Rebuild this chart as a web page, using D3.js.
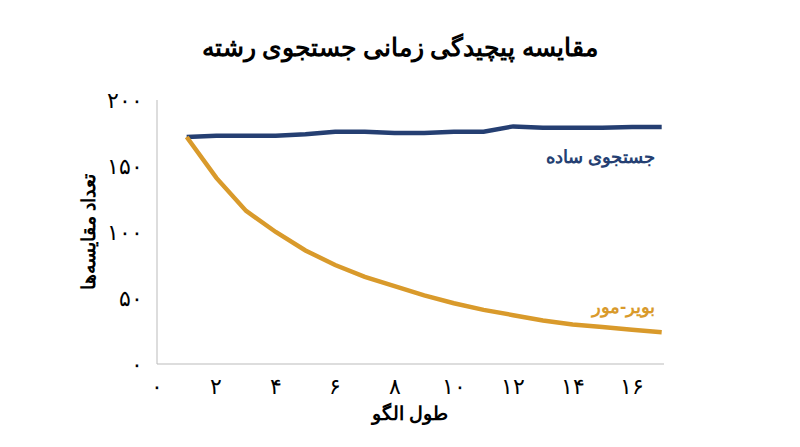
<!DOCTYPE html>
<html><head><meta charset="utf-8">
<script src="https://cdn.jsdelivr.net/npm/d3@7"></script>
<style>body{margin:0;background:#fff;font-family:"Noto Sans",sans-serif}</style>
</head><body><svg id="c" width="800" height="447"></svg>
<script>
const xs = [1,2,3,4,5,6,7,8,9,10,11,12,13,14,15,16,17];
const naive = [172,173,173,173,174,176,176,175,175,176,176,180,179,179,179,179.5,179.5];
const boyer = [172,141,116,100,86,75,66,59,52,46,41,37,33,30,28,26,24];
const xTicks = [0,2,4,6,8,10,12,14,16];
const yTicks = [0,50,100,150,200];
const fa = n => String(n).replace(/\d/g, d => "۰۱۲۳۴۵۶۷۸۹"[d]);

const svg = d3.select("#c");
const x = d3.scaleLinear().domain([0,16]).range([157,632]);
const y = d3.scaleLinear().domain([0,200]).range([364,100]);
const f = "'Noto Sans', sans-serif";

svg.append("text").attr("x",400).attr("y",56).attr("text-anchor","middle")
  .attr("font-size",25).attr("font-weight","bold").attr("font-family",f)
  .text("مقایسه پیچیدگی زمانی جستجوی رشته");

svg.append("line").attr("x1",157).attr("x2",157).attr("y1",100).attr("y2",364).attr("stroke","#bbb");
svg.append("line").attr("x1",157).attr("x2",664).attr("y1",364).attr("y2",364).attr("stroke","#bbb");

svg.selectAll(".yt").data(yTicks).join("text").attr("x",143).attr("y",d=>y(d)+8)
  .attr("text-anchor","end").attr("font-size",22).attr("font-family",f).text(fa);
svg.selectAll(".xt").data(xTicks).join("text").attr("x",d=>x(d)).attr("y",394)
  .attr("text-anchor","middle").attr("font-size",22).attr("font-family",f).text(fa);

svg.append("text").attr("x",410).attr("y",420).attr("text-anchor","middle")
  .attr("font-size",19).attr("font-weight","bold").attr("font-family",f).text("طول الگو");
svg.append("text").attr("transform","translate(95,232) rotate(-90)").attr("text-anchor","middle")
  .attr("font-size",19).attr("font-weight","bold").attr("font-family",f).text("تعداد مقایسه‌ها");

const line = d3.line().x((d,i)=>x(xs[i])).y(d=>y(d));
svg.append("path").datum(naive).attr("d",line).attr("fill","none").attr("stroke","#253f72").attr("stroke-width",4.5);
svg.append("path").datum(boyer).attr("d",line).attr("fill","none").attr("stroke","#d99a2b").attr("stroke-width",4.5);

svg.append("text").attr("x",655).attr("y",163).attr("text-anchor","end").attr("font-size",18)
  .attr("font-weight","bold").attr("fill","#253f72").attr("font-family",f).text("جستجوی ساده");
svg.append("text").attr("x",655).attr("y",313).attr("text-anchor","end").attr("font-size",18)
  .attr("font-weight","bold").attr("fill","#d99a2b").attr("font-family",f).text("بویر-مور");
</script></body></html>
